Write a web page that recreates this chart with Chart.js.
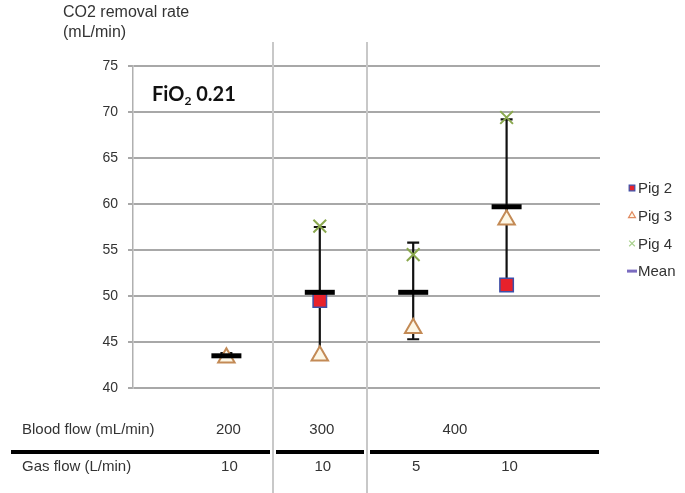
<!DOCTYPE html>
<html><head><meta charset="utf-8">
<script src="https://cdn.jsdelivr.net/npm/chart.js@4.4.0/dist/chart.umd.min.js"></script>
<style>html,body{margin:0;padding:0;background:#fff;}#wrap{width:685px;height:493px;}</style>
</head><body><div id="wrap"><canvas id="c" width="685" height="493"></canvas></div>
<script>
// ---- data ----
const categories = [1, 2, 3, 4];
const bloodFlowLabels = ['200', '300', '400'];
const gasFlowLabels = ['10', '10', '5', '10'];
const pig2 = [null, 49.5, null, 51.2];
const pig3 = [43.3, 43.5, 46.5, 58.3];
const pig4 = [null, 57.6, 54.5, 69.4];
const meanValues = [43.5, 50.4, 50.4, 59.7];
const errLow = [43.3, 43.4, 45.3, 50.9];
const errHigh = [43.8, 57.5, 55.8, 69.2];
const yTicks = [40, 45, 50, 55, 60, 65, 70, 75];
const seriesNames = ['Pig 2', 'Pig 3', 'Pig 4', 'Mean'];

const toPts = arr => categories.map((c, i) => ({x: c, y: arr[i]})).filter(p => p.y !== null);

const TXT = '#333333';
const FONT = '"Liberation Sans", Arial, sans-serif';

const decor = {
  id: 'decor',
  beforeDatasetsDraw(chart) {
    const {ctx, scales: {x, y}} = chart;
    ctx.save();
    ctx.strokeStyle = '#c8c8c8'; ctx.lineWidth = 2;
    [1.5, 2.5].forEach(v => {
      const px = Math.round(x.getPixelForValue(v));
      ctx.beginPath(); ctx.moveTo(px, 42); ctx.lineTo(px, 493); ctx.stroke();
    });
    ctx.strokeStyle = '#111'; ctx.lineWidth = 2.2;
    categories.forEach((c, i) => {
      const px = x.getPixelForValue(c);
      const y1 = y.getPixelForValue(errLow[i]), y2 = y.getPixelForValue(errHigh[i]);
      ctx.beginPath();
      ctx.moveTo(px, y1); ctx.lineTo(px, y2);
      ctx.moveTo(px - 6, y1); ctx.lineTo(px + 6, y1);
      ctx.moveTo(px - 6, y2); ctx.lineTo(px + 6, y2);
      ctx.stroke();
    });
    ctx.restore();
  },
  afterDraw(chart) {
    const {ctx, scales: {x}} = chart;
    ctx.save();
    // axis title
    ctx.fillStyle = TXT; ctx.textBaseline = 'middle'; ctx.textAlign = 'left';
    ctx.font = '16px ' + FONT;
    ctx.fillText('CO2 removal rate', 63, 13);
    ctx.fillText('(mL/min)', 63, 33);
    // FiO2 label
    ctx.fillStyle = '#111'; ctx.textBaseline = 'alphabetic';
    ctx.font = 'bold 20px Lato, "Open Sans", sans-serif';
    let tx = 152; const by = 101;
    ctx.fillText('FiO', tx, by); tx += ctx.measureText('FiO').width;
    ctx.font = 'bold 12px Lato, "Open Sans", sans-serif';
    ctx.fillText('2', tx, by + 4); tx += ctx.measureText('2').width;
    ctx.font = 'bold 20px Lato, "Open Sans", sans-serif';
    ctx.fillText(' 0.21', tx, by);
    // table
    ctx.fillStyle = TXT; ctx.textBaseline = 'middle';
    ctx.font = '15px ' + FONT;
    ctx.textAlign = 'left';
    ctx.fillText('Blood flow (mL/min)', 22, 430);
    ctx.fillText('Gas flow (L/min)', 22, 467);
    ctx.textAlign = 'center';
    const p = v => x.getPixelForValue(v);
    ctx.fillText(bloodFlowLabels[0], p(categories[0]) + 2, 430);
    ctx.fillText(bloodFlowLabels[1], p(categories[1]) + 2, 430);
    ctx.fillText(bloodFlowLabels[2], (p(categories[2]) + p(categories[3])) / 2 - 5, 430);
    gasFlowLabels.forEach((t, i) => ctx.fillText(t, p(categories[i]) + 3, 467));
    // thick line with gaps at separators
    ctx.strokeStyle = '#000'; ctx.lineWidth = 4;
    const s1 = Math.round(p(1.5)), s2 = Math.round(p(2.5));
    [[11, s1 - 3], [s1 + 3, s2 - 3], [s2 + 3, 599]].forEach(([a, b]) => {
      ctx.beginPath(); ctx.moveTo(a, 452); ctx.lineTo(b, 452); ctx.stroke();
    });
    // legend
    ctx.textAlign = 'left'; ctx.font = '15px ' + FONT;
    chart.data.datasets.forEach((ds, i) => {
      const ly = 188 + i * 27.7;
      ctx.save();
      ctx.fillStyle = ds.legendFill || ds.backgroundColor;
      ctx.strokeStyle = ds.legendStroke || ds.borderColor;
      ctx.lineWidth = ds.legendLineWidth || 1.2;
      Chart.helpers.drawPoint(ctx, {pointStyle: ds.pointStyle, radius: ds.legendRadius, rotation: 0, borderWidth: ctx.lineWidth}, 632, ly);
      ctx.restore();
      ctx.fillStyle = TXT;
      ctx.fillText(ds.label, 638, ly + 1);
    });
    ctx.restore();
  }
};

new Chart(document.getElementById('c'), {
  type: 'scatter',
  data: {
    datasets: [
      {label: seriesNames[0], data: toPts(pig2), pointStyle: 'rect', pointRadius: 9.5, backgroundColor: '#e8212b', borderColor: '#3d4fa8', borderWidth: 1.5, order: 1, legendRadius: 4},
      {label: seriesNames[1], data: toPts(pig3), pointStyle: 'triangle', pointRadius: 9.5, backgroundColor: '#fdf7e6', borderColor: '#c38a55', borderWidth: 2, order: 1, legendRadius: 4, legendStroke: '#e08a60', legendLineWidth: 1.2},
      {label: seriesNames[2], data: toPts(pig4), pointStyle: 'crossRot', pointRadius: 9, backgroundColor: '#9bbb59', borderColor: '#8aa84e', borderWidth: 2, order: 1, legendRadius: 4, legendStroke: '#a9d18e', legendLineWidth: 1.2},
      {label: seriesNames[3], data: toPts(meanValues), pointStyle: 'line', pointRadius: 15, backgroundColor: '#000', borderColor: '#000', borderWidth: 5, order: 0, legendRadius: 5, legendStroke: '#7b6cc0', legendLineWidth: 3}
    ]
  },
  options: {
    responsive: false,
    animation: false,
    devicePixelRatio: 1,
    layout: {padding: {left: 0, top: 66, right: 85, bottom: 105}},
    plugins: {legend: {display: false}, tooltip: {enabled: false}, title: {display: false}},
    elements: {point: {hoverRadius: 0}},
    scales: {
      x: {type: 'linear', min: 0, max: 5, display: false},
      y: {
        type: 'linear', min: yTicks[0], max: yTicks[yTicks.length - 1],
        afterBuildTicks: s => { s.ticks = yTicks.map(v => ({value: v})); },
        afterFit: s => { s.width = 133; },
        ticks: {color: TXT, font: {family: FONT, size: 14}, padding: 10},
        grid: {color: '#a8a8a8', lineWidth: 2, tickLength: 5, drawTicks: true},
        border: {display: true, color: '#b0b0b0', width: 1.5}
      }
    }
  },
  plugins: [decor]
});
</script>
</body></html>
